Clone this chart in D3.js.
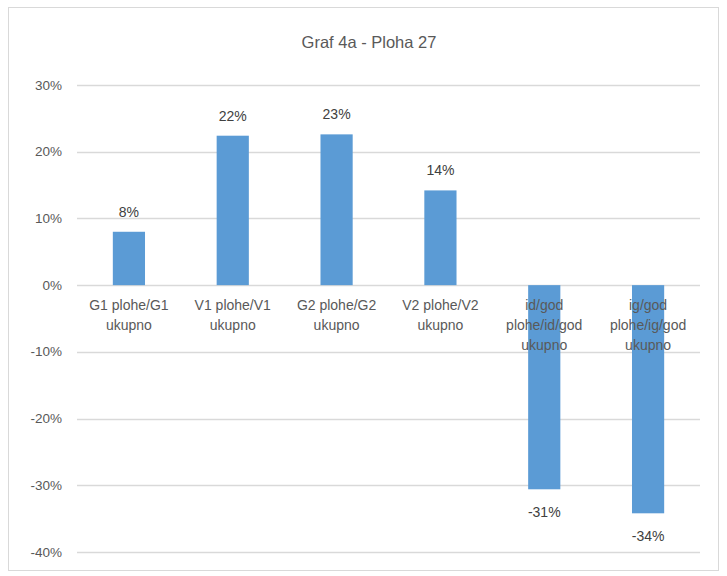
<!DOCTYPE html>
<html><head><meta charset="utf-8">
<script src="https://cdn.jsdelivr.net/npm/d3@7"></script>
<style>body{margin:0;background:#fff;} svg{display:block;font-family:"Liberation Sans",Arial,sans-serif;}</style>
</head><body><svg id="c" width="727" height="576"></svg>
<script>
const categories = [["G1 plohe/G1","ukupno"],["V1 plohe/V1","ukupno"],["G2 plohe/G2","ukupno"],["V2 plohe/V2","ukupno"],["id/god","plohe/id/god","ukupno"],["ig/god","plohe/ig/god","ukupno"]];
const values = [0.08, 0.224, 0.226, 0.142, -0.306, -0.342];
const labels = ["8%","22%","23%","14%","-31%","-34%"];
const ticks = [0.3,0.2,0.1,0,-0.1,-0.2,-0.3,-0.4];
const title = "Graf 4a - Ploha 27";

const svg = d3.select("#c");
svg.append("rect").attr("x",8.5).attr("y",7.5).attr("width",710).attr("height",563).attr("fill","#fff").attr("stroke","#d9d9d9");
svg.append("text").attr("x",369).attr("y",48).attr("text-anchor","middle").attr("font-size",16.5).attr("fill","#595959").text(title);

const y = d3.scaleLinear().domain([-0.4,0.3]).range([552,85]);
const x = d3.scaleBand().domain(d3.range(categories.length)).range([77,700]).paddingInner(0.69).paddingOuter(0.345);
const fmt = d => d3.format(".0%")(d).replace("\u2212","-");

const g = svg.append("g");
g.selectAll("line.grid").data(ticks).join("line").attr("x1",77).attr("x2",700)
 .attr("y1",d=>Math.round(y(d))+0.5).attr("y2",d=>Math.round(y(d))+0.5).attr("stroke","#d9d9d9").attr("stroke-width",1.3);
g.selectAll("text.tick").data(ticks).join("text").attr("x",62).attr("y",d=>y(d)+4.5).attr("text-anchor","end")
 .attr("font-size",13.5).attr("fill","#595959").text(fmt);

g.selectAll("rect.bar").data(values).join("rect").attr("x",(d,i)=>x(i)).attr("width",x.bandwidth())
 .attr("y",d=>y(Math.max(0,d))).attr("height",d=>Math.abs(y(d)-y(0))).attr("fill","#5b9bd5");

g.selectAll("text.val").data(values).join("text").attr("x",(d,i)=>x(i)+x.bandwidth()/2)
 .attr("y",d=>d>=0? y(d)-15 : y(d)+28).attr("text-anchor","middle").attr("font-size",14).attr("fill","#404040")
 .text((d,i)=>labels[i]);

categories.forEach((c,i)=>{
  const t = g.append("text").attr("text-anchor","middle").attr("font-size",14).attr("fill","#595959");
  c.forEach((line,j)=>t.append("tspan").attr("x",x(i)+x.bandwidth()/2).attr("y",310+j*20).text(line));
});
</script></body></html>
